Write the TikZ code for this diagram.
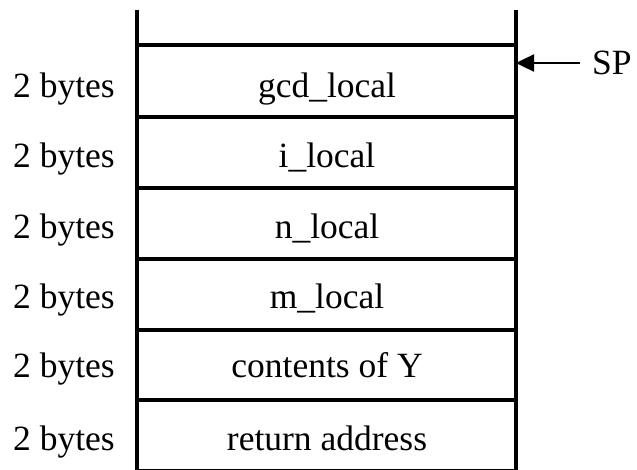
\documentclass[tikz,border=0pt]{standalone}
\usepackage{fontspec}
\setmainfont{Liberation Serif}
\usetikzlibrary{arrows.meta}
\begin{document}
\begin{tikzpicture}[x=1pt,y=-1pt,
    wall/.style={line width=3.6pt},
    cell/.style={anchor=base,inner sep=0pt,font=\fontsize{35.5}{40}\selectfont},
    sizelbl/.style={cell},
    pointer/.style={line width=2.4pt,-{Triangle[length=18pt,width=17pt]}}]
  \useasboundingbox (0,0) rectangle (637,469);
  % stack frame walls
  \coordinate (tl) at (137,9.5);
  \coordinate (tr) at (516,9.5);
  \coordinate (bl) at (137,480);
  \coordinate (br) at (516,480);
  \draw[wall] (tl) -- (bl);
  \draw[wall] (tr) -- (br);
  % slot separators
  \foreach \y in {45,117,188,259,330,400,470.5}
    \draw[wall] (137,\y) -- (516,\y);
  % slot contents and sizes
  \foreach \name/\txt/\base [count=\i] in {
      gcd/gcd\_local/97,
      i/i\_local/167,
      n/n\_local/238,
      m/m\_local/308,
      y/contents of Y/377,
      ret/return address/450}
  {
    \node[cell] (slot-\name) at (327,\base) {\txt};
    \node[sizelbl] (size-\name) at (64,\base) {2 bytes};
  }
  % stack pointer
  \coordinate (tip) at (516,63);
  \node[anchor=west,inner xsep=12pt,inner ysep=0pt,
        font=\fontsize{35.5}{40}\selectfont] (sp) at (580,63) {SP};
  \draw[pointer] (sp.west) -- (tip);
\end{tikzpicture}
\end{document}
